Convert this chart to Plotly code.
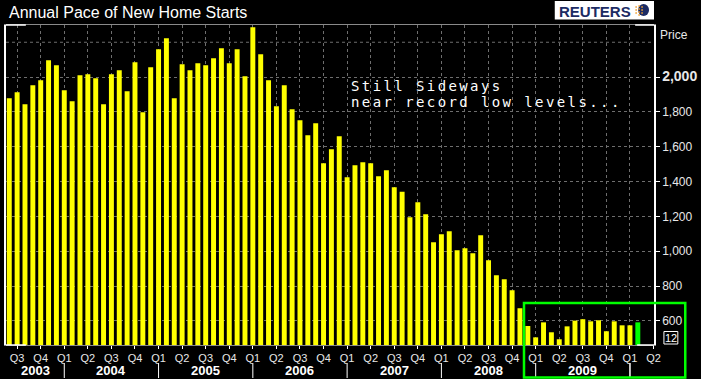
import plotly.graph_objects as go
import pandas as pd

# ---- data (thousands of units, annual rate), monthly Jun 2003 .. Feb 2010 ----
months = pd.period_range("2003-06", periods=81, freq="M").strftime("%b %Y").tolist()
starts = [1878, 1913, 1844, 1953, 1982, 2096, 2068, 1924, 1861, 2010,
          2016, 1993, 1844, 2016, 2039, 1919, 2085, 1798, 2056, 2160,
          2223, 1878, 2074, 2039, 2079, 2068, 2108, 2165, 2079, 2160,
          2005, 2286, 2131, 1982, 1832, 1953, 1815, 1752, 1666, 1735,
          1505, 1586, 1660, 1425, 1494, 1511, 1505, 1431, 1465, 1367,
          1342, 1195, 1281, 1212, 1052, 1098, 1115, 1006, 1017, 988,
          1092, 948, 862, 839, 776, 673, 571, 506, 592, 535,
          495, 569, 602, 610, 598, 604, 541, 598, 575, 575, 592]
quarter_labels = ["Q3", "Q4"] + ["Q1", "Q2", "Q3", "Q4"] * 6 + ["Q1", "Q2"]
year_labels = ["2003", "2004", "2005", "2006", "2007", "2008", "2009"]
price_ticks = [600, 800, 1000, 1200, 1400, 1600, 1800, 2000]
price_text = ["600", "800", "1,000", "1,200", "1,400", "1,600", "1,800",
              "<b><span style='font-size:14px'>2,000</span></b>"]

x = list(range(len(starts)))
bar_colors = ["#ffff00"] * (len(starts) - 1) + ["#00ff00"]
quarter_idx = [1 + 3 * i for i in range(len(quarter_labels))]
year_bounds = [-0.417] + [7 + 12 * i for i in range(len(year_labels))]
year_centers = [(year_bounds[i] + year_bounds[i + 1]) / 2 for i in range(len(year_labels))]

# plot area in pixels: x 4..657, y 25..345
L, R, T, B = 4, 657, 25, 345
W, H = 701, 379
def px(xp):
    return (xp - L) / (R - L)
def py(yp):
    return (B - yp) / (B - T)

fig = go.Figure()
fig.add_trace(go.Bar(x=x, y=starts, marker=dict(color=bar_colors, line=dict(width=0)),
                     customdata=months,
                     hovertemplate="%{customdata}: %{y}<extra></extra>"))

shapes = []
# 2200 gridline (no label)
shapes.append(dict(type="line", xref="paper", yref="y", x0=0, x1=1, y0=2200, y1=2200,
                   line=dict(color="#6e6e6e", width=1, dash="3px,3px"), layer="below"))
# year separators
for s in year_bounds[1:] + [79]:
    shapes.append(dict(type="line", xref="x", yref="paper", x0=s, x1=s,
                       y0=py(363), y1=py(378), line=dict(color="white", width=1)))
# white corner segments on frame
for (a, b, yy) in [(4, 24, 25), (638, 657, 25), (4, 24, 345), (640, 657, 345)]:
    shapes.append(dict(type="line", xref="paper", yref="paper", x0=px(a), x1=px(b),
                       y0=py(yy), y1=py(yy), line=dict(color="white", width=1.5)))
# green highlight box
shapes.append(dict(type="rect", xref="paper", yref="paper", x0=px(526), x1=px(688.5),
                   y0=py(303), y1=py(377.5), line=dict(color="#00ff00", width=2.5)))
# "12" box
shapes.append(dict(type="rect", xref="paper", yref="paper", x0=px(667), x1=px(681),
                   y0=py(331.5), y1=py(344), line=dict(color="white", width=1)))
# Reuters logo box
shapes.append(dict(type="rect", xref="paper", yref="paper", x0=px(557), x1=px(657),
                   y0=py(1), y1=py(19.5), fillcolor="white", line=dict(width=0)))
shapes.append(dict(type="circle", xref="paper", yref="paper", x0=px(641), x1=px(652),
                   y0=py(4), y1=py(16), fillcolor="#1c2b63", line=dict(width=0)))
for (cx, cy) in [(639, 7), (639, 10), (639, 13), (642, 6), (642, 9), (642, 12), (642, 15),
                 (645, 7), (645, 10), (645, 13)]:
    shapes.append(dict(type="rect", xref="paper", yref="paper", x0=px(cx - 0.8), x1=px(cx + 0.8),
                       y0=py(cy - 0.8), y1=py(cy + 0.8), fillcolor="#f0a030", line=dict(width=0)))

annotations = []
annotations.append(dict(text="Annual Pace of New Home Starts", xref="paper", yref="paper",
                        x=px(5), y=py(13), xanchor="left", yanchor="middle", showarrow=False,
                        font=dict(family="Liberation Sans, Arial", size=16, color="white")))
annotations.append(dict(text="<b>REUTERS</b>", xref="paper", yref="paper",
                        x=px(559), y=py(11), xanchor="left", yanchor="middle", showarrow=False,
                        font=dict(family="Liberation Sans, Arial", size=15, color="#1c2b63")))
annotations.append(dict(text="Price", xref="paper", yref="paper", x=1, xshift=4,
                        y=py(35), xanchor="left", yanchor="middle", showarrow=False,
                        font=dict(family="Liberation Sans, Arial", size=12, color="#e8e8e8")))
annotations.append(dict(text="12", xref="paper", yref="paper", x=px(674), y=py(337.5),
                        xanchor="center", yanchor="middle", showarrow=False,
                        font=dict(family="Liberation Sans, Arial", size=11, color="white")))
for yr, c in zip(year_labels, year_centers):
    annotations.append(dict(text="<b>" + yr + "</b>", xref="x", yref="paper", x=c, y=py(370),
                            xanchor="center", yanchor="middle", showarrow=False,
                            font=dict(family="Liberation Sans, Arial", size=13, color="white")))
for line_text, yy in [("Still Sideways", 86), ("near record low levels...", 102)]:
    annotations.append(dict(text="<span style='letter-spacing:2.4px'>" + line_text + "</span>",
                            xref="paper", yref="paper", x=px(350), y=py(yy),
                            xanchor="left", yanchor="middle", showarrow=False,
                            font=dict(family="DejaVu Sans Mono, Liberation Mono", size=14,
                                      color="white")))

fig.update_layout(
    width=W, height=H,
    margin=dict(l=L, r=W - R, t=T, b=H - B, pad=0),
    paper_bgcolor="black", plot_bgcolor="black",
    showlegend=False, bargap=0.37,
    shapes=shapes, annotations=annotations,
    xaxis=dict(range=[-0.417, 82.06], tickmode="array", tickvals=quarter_idx,
               ticktext=quarter_labels, ticks="outside", ticklen=3, tickcolor="white",
               tickfont=dict(family="Liberation Sans, Arial", size=11, color="#e8e8e8"),
               showgrid=True, gridcolor="#6e6e6e", griddash="3px,3px", gridwidth=1,
               showline=True, linecolor="#8a8a8a", linewidth=1, mirror=True,
               zeroline=False, fixedrange=True),
    yaxis=dict(range=[462, 2299], side="right", tickmode="array", tickvals=price_ticks,
               ticktext=price_text, ticks="outside", ticklen=4, tickcolor="white",
               tickfont=dict(family="Liberation Sans, Arial", size=12, color="#e8e8e8"),
               showgrid=True, gridcolor="#6e6e6e", griddash="3px,3px", gridwidth=1,
               showline=True, linecolor="white", linewidth=1.5, mirror=True,
               zeroline=False, fixedrange=True),
)

fig.write_html("out.html", config={"displayModeBar": False},
               post_script="document.body.style.margin='0';document.body.style.background='black';")
